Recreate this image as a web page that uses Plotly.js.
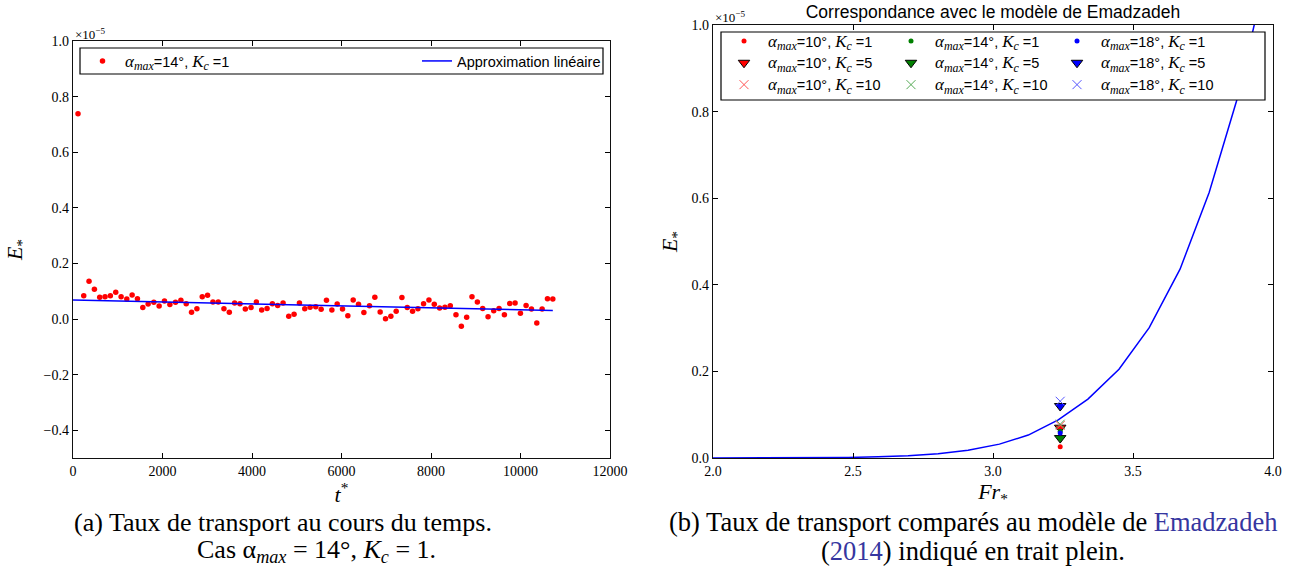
<!DOCTYPE html>
<html><head><meta charset="utf-8">
<script src="https://cdn.plot.ly/plotly-3.0.1.min.js"></script>
<style>html,body{margin:0;padding:0;background:#fff;} #chart{width:1289px;height:572px;}</style>
</head><body><div id="chart"></div>
<script>
// ---------- data (left panel) ----------
const timeT = [112,240,358,478,597,716,835,955,1075,1202,1321,1440,1560,1679,1806,1925,2044,2165,2291,2411,2530,2649,2769,2888,3007,3127,3246,3373,3493,3612,3731,3851,3978,4097,4216,4336,4455,4574,4694,4821,4940,5060,5179,5298,5425,5545,5664,5785,5904,6023,6142,6261,6380,6500,6626,6745,6864,6984,7103,7222,7350,7469,7588,7708,7834,7954,8073,8193,8312,8431,8558,8678,8797,8916,9036,9155,9275,9402,9521,9640,9760,9879,9998,10125,10245,10364,10483,10603,10722];
const transportE = [0.738,0.084,0.136,0.107,0.078,0.080,0.084,0.096,0.080,0.072,0.086,0.073,0.041,0.054,0.060,0.047,0.065,0.052,0.060,0.067,0.055,0.024,0.037,0.080,0.085,0.061,0.061,0.037,0.024,0.058,0.055,0.036,0.041,0.061,0.032,0.038,0.055,0.049,0.058,0.010,0.017,0.058,0.037,0.042,0.044,0.035,0.067,0.032,0.054,0.036,0.012,0.068,0.053,0.023,0.048,0.078,0.025,0.001,0.010,0.028,0.077,0.041,0.028,0.037,0.055,0.068,0.053,0.040,0.042,0.048,0.015,-0.026,0.006,0.080,0.061,0.038,0.008,0.030,0.038,0.015,0.056,0.058,0.021,0.049,0.036,-0.014,0.036,0.073,0.072];
const fitT = [0, 10722];
const fitE = [0.068, 0.031];

// ---------- data (right panel) ----------
const modelFr = [1.948,2.055,2.162,2.269,2.376,2.483,2.59,2.697,2.804,2.911,3.023,3.126,3.233,3.339,3.45,3.558,3.668,3.772,3.870,3.975];
const modelE  = [0.00002,0.00005,0.0001,0.0003,0.0006,0.0013,0.0027,0.0053,0.0100,0.018,0.032,0.053,0.088,0.136,0.205,0.301,0.436,0.613,0.825,1.117];
const caseAlpha = [10,14,18,10,14,18,10,14,18];
const caseKc    = [1,1,1,5,5,5,10,10,10];
const caseFr    = [3.24,3.24,3.24,3.24,3.24,3.24,3.24,3.24,3.24];
const caseE     = [0.026,0.062,0.058,0.070,0.046,0.120,0.075,0.078,0.131];

const xTicksLeft = [0,2000,4000,6000,8000,10000,12000];
const yTicksLeft = [-0.4,-0.2,0.0,0.2,0.4,0.6,0.8,1.0];
const xTicksRight = [2.0,2.5,3.0,3.5,4.0];
const yTicksRight = [0.0,0.2,0.4,0.6,0.8,1.0];

// ---------- helpers ----------
const W = 1289, H = 572;
const PX = p => p / W;
const PY = p => 1 - p / H;
const M = s => '<span style="font-family:Liberation Serif;font-style:italic;font-size:17px">' + s + '</span>';
const caseName = (a, k) => M('α<sub>max</sub>') + '=' + a + '°, ' + M('K<sub>c</sub>') + ' =' + k;
const colorOf = {10: '#ff0000', 14: '#008000', 18: '#0000ff'};
const xColorOf = {10: '#ff5555', 14: '#55aa55', 18: '#5555ff'};
const legendOf = {10: 'legend3', 14: 'legend4', 18: 'legend5'};

const traces = [];
traces.push({
  x: timeT, y: transportE, type: 'scatter', mode: 'markers', xaxis: 'x', yaxis: 'y',
  name: caseName(14, 1), legend: 'legend',
  marker: {color: '#ff0000', size: 5.5, line: {width: 0}}
});
traces.push({
  x: fitT, y: fitE, type: 'scatter', mode: 'lines', xaxis: 'x', yaxis: 'y',
  name: 'Approximation linéaire', legend: 'legend2',
  line: {color: '#0000ff', width: 1.5}
});
traces.push({
  x: modelFr, y: modelE, type: 'scatter', mode: 'lines', xaxis: 'x2', yaxis: 'y2',
  showlegend: false, line: {color: '#0000ff', width: 1.5}, cliponaxis: true
});
const order = [];
[10,14,18].forEach(a => [1,5,10].forEach(k => {
  for (let i = 0; i < caseAlpha.length; i++) if (caseAlpha[i] === a && caseKc[i] === k) order.push(i);
}));
order.forEach(i => {
  const a = caseAlpha[i], k = caseKc[i];
  let marker;
  if (k === 1) marker = {symbol: 'circle', size: 5, color: colorOf[a], line: {width: 0}};
  else if (k === 5) marker = {symbol: 'triangle-down', size: 10, color: colorOf[a], line: {width: 1, color: '#000'}};
  else marker = {symbol: 'x-thin-open', size: 9, color: xColorOf[a], line: {width: 1, color: xColorOf[a]}};
  traces.push({
    x: [caseFr[i]], y: [caseE[i]], type: 'scatter', mode: 'markers', xaxis: 'x2', yaxis: 'y2',
    name: caseName(a, k), legend: legendOf[a], marker: marker, cliponaxis: false
  });
});

const tickFont = {family: 'Liberation Serif, serif', size: 14, color: '#000'};
const axisCommon = {
  showgrid: false, zeroline: false, showline: true, linecolor: '#111', linewidth: 1.2,
  ticks: 'inside', ticklen: 5, tickwidth: 1, tickcolor: '#000', mirror: 'ticks',
  tickfont: tickFont, automargin: false, fixedrange: true
};
const legendCommon = {
  orientation: 'v', xanchor: 'left', yanchor: 'top', bgcolor: 'rgba(0,0,0,0)', borderwidth: 0,
  font: {family: 'Liberation Sans', size: 14.5, color: '#000'}, tracegroupgap: 0, itemclick: false
};

const layout = {
  width: W, height: H, margin: {l: 0, r: 0, t: 0, b: 0},
  paper_bgcolor: '#fff', plot_bgcolor: '#fff',
  font: {family: 'Liberation Serif', color: '#000'},
  title: {text: 'Correspondance avec le modèle de Emadzadeh', x: PX(993), xanchor: 'center',
          y: PY(12), yanchor: 'middle', yref: 'container', xref: 'container',
          font: {family: 'Liberation Sans', size: 17.5, color: '#000'}},
  xaxis: Object.assign({}, axisCommon, {domain: [PX(73), PX(610)], range: [0, 12000], tickvals: xTicksLeft,
          tickformat: 'd', anchor: 'y',
          title: {text: '<i>t</i><sup>*</sup>', font: {family: 'Liberation Serif', size: 22}, standoff: 5}}),
  yaxis: Object.assign({}, axisCommon, {domain: [PY(458), PY(41)], range: [-0.5, 1.0], tickvals: yTicksLeft,
          tickformat: '.1f', anchor: 'x',
          title: {text: '<i>E</i><sub>*</sub>', font: {family: 'Liberation Serif', size: 22}, standoff: 14}}),
  xaxis2: Object.assign({}, axisCommon, {domain: [PX(713), PX(1273)], range: [2, 4], tickvals: xTicksRight,
          tickformat: '.1f', anchor: 'y2',
          title: {text: '<i>Fr</i><sub>*</sub>', font: {family: 'Liberation Serif', size: 22}, standoff: 3}}),
  yaxis2: Object.assign({}, axisCommon, {domain: [PY(458), PY(25)], range: [0, 1.0], tickvals: yTicksRight,
          tickformat: '.1f', anchor: 'x2',
          title: {text: '<i>E</i><sub>*</sub>', font: {family: 'Liberation Serif', size: 22}, standoff: 7}}),
  legend:  Object.assign({}, legendCommon, {x: PX(80), y: PY(45), itemwidth: 35}),
  legend2: Object.assign({}, legendCommon, {x: PX(417), y: PY(45)}),
  legend3: Object.assign({}, legendCommon, {x: PX(720), y: PY(25), itemwidth: 38}),
  legend4: Object.assign({}, legendCommon, {x: PX(887), y: PY(25), itemwidth: 38}),
  legend5: Object.assign({}, legendCommon, {x: PX(1053), y: PY(25), itemwidth: 38}),
  shapes: [
    {type: 'rect', xref: 'paper', yref: 'paper', x0: PX(80), x1: PX(603), y0: PY(74), y1: PY(48),
     line: {color: '#000', width: 1.2}, fillcolor: '#fff', layer: 'above'},
    {type: 'rect', xref: 'paper', yref: 'paper', x0: PX(721), x1: PX(1265), y0: PY(100), y1: PY(32),
     line: {color: '#000', width: 1.2}, fillcolor: '#fff', layer: 'above'}
  ],
  annotations: [
    {xref: 'paper', yref: 'paper', x: PX(73), y: PY(44), xanchor: 'left', yanchor: 'bottom', showarrow: false,
     text: '×10<sup>−5</sup>', font: {family: 'Liberation Serif', size: 13}},
    {xref: 'paper', yref: 'paper', x: PX(713), y: PY(27), xanchor: 'left', yanchor: 'bottom', showarrow: false,
     text: '×10<sup>−5</sup>', font: {family: 'Liberation Serif', size: 13}},
    {xref: 'paper', yref: 'paper', x: PX(283), y: PY(522), xanchor: 'center', yanchor: 'middle', showarrow: false,
     text: '(a) Taux de transport au cours du temps.', font: {family: 'Liberation Serif', size: 26}},
    {xref: 'paper', yref: 'paper', x: PX(316), y: PY(551), xanchor: 'center', yanchor: 'middle', showarrow: false,
     text: 'Cas α<sub><i>max</i></sub> = 14°, <i>K<sub>c</sub></i> = 1.', font: {family: 'Liberation Serif', size: 26}},
    {xref: 'paper', yref: 'paper', x: PX(973), y: PY(522), xanchor: 'center', yanchor: 'middle', showarrow: false,
     text: '(b) Taux de transport comparés au modèle de <span style="color:#3636a0">Emadzadeh</span>', font: {family: 'Liberation Serif', size: 26.5}},
    {xref: 'paper', yref: 'paper', x: PX(973), y: PY(551), xanchor: 'center', yanchor: 'middle', showarrow: false,
     text: '(<span style="color:#3636a0">2014</span>) indiqué en trait plein.', font: {family: 'Liberation Serif', size: 26.5}}
  ],
  showlegend: true
};

Plotly.newPlot('chart', traces, layout, {displayModeBar: false, staticPlot: true});
</script>
</body></html>
